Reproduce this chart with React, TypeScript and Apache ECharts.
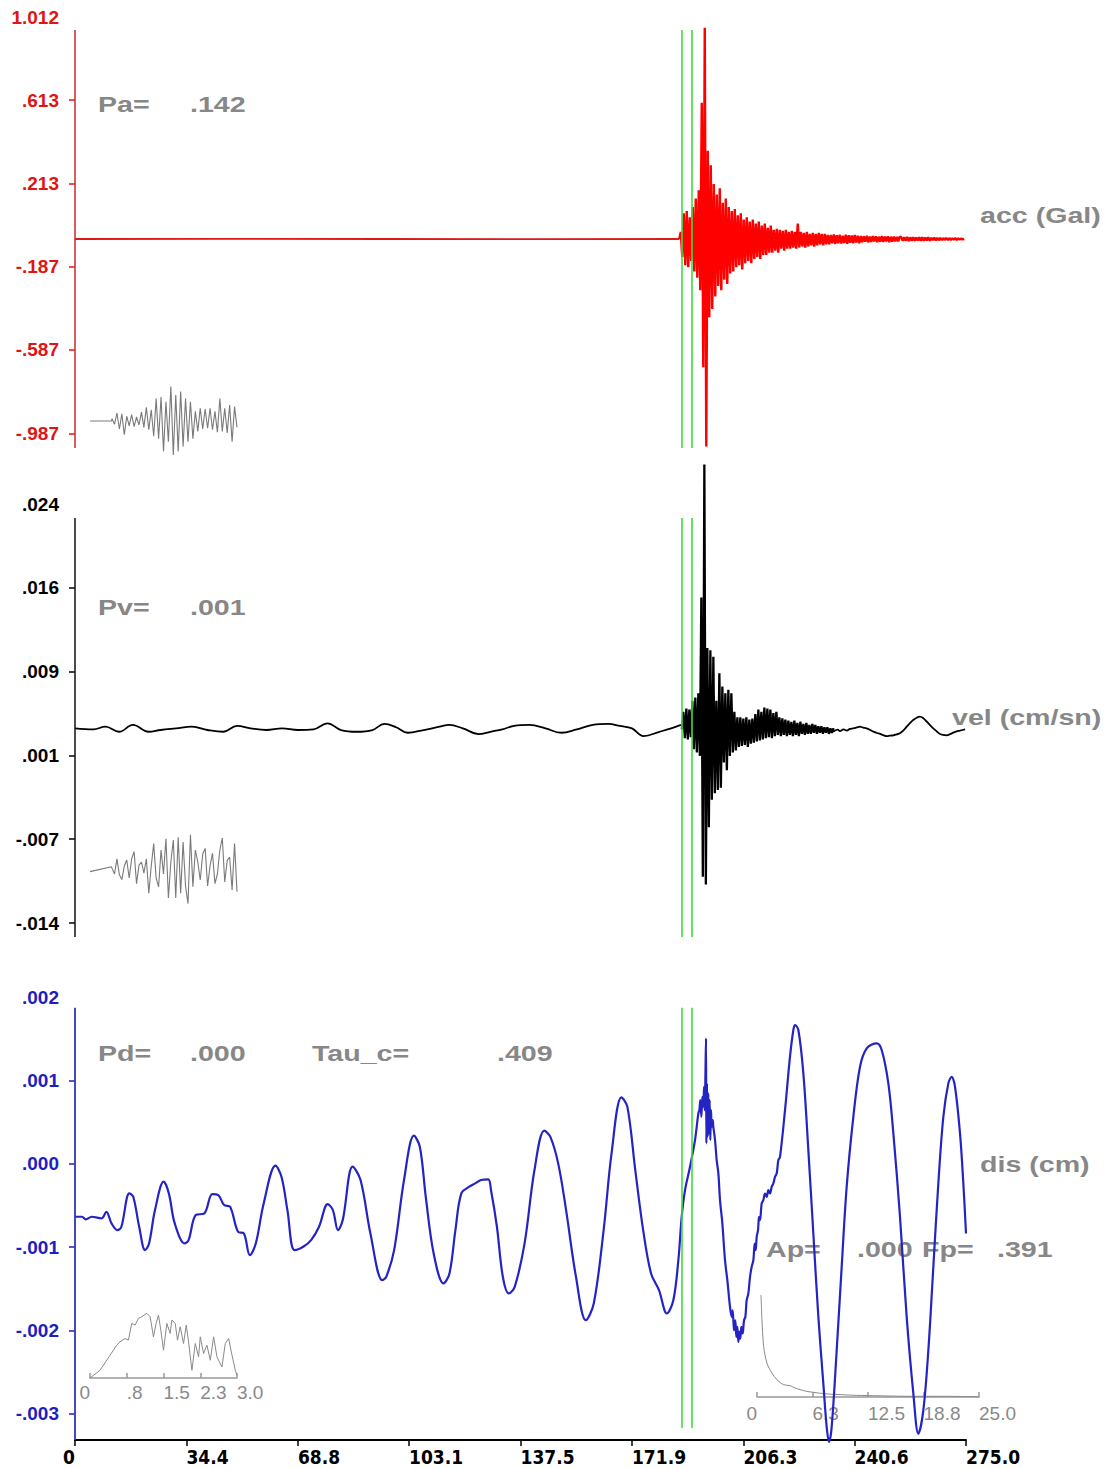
import React, { useEffect, useRef } from 'react';
import * as echarts from 'echarts';

// ---------------- axis ticks ----------------
const X_TICKS = [0, 34.4, 68.8, 103.1, 137.5, 171.9, 206.3, 240.6, 275.0];
const X_TICK_LABELS = ['0', '34.4', '68.8', '103.1', '137.5', '171.9', '206.3', '240.6', '275.0'];

const ACC_TICKS = [-0.987, -0.587, -0.187, 0.213, 0.613, 1.012];
const ACC_TICK_LABELS = ['-.987', '-.587', '-.187', '.213', '.613', '1.012'];
const VEL_TICKS = [-0.0142, -0.00658, 0.00104, 0.00866, 0.01628, 0.0239];
const VEL_TICK_LABELS = ['-.014', '-.007', '.001', '.009', '.016', '.024'];
const DIS_TICKS = [-0.003, -0.002, -0.001, 0, 0.001, 0.002];
const DIS_TICK_LABELS = ['-.003', '-.002', '-.001', '.000', '.001', '.002'];

const SPEC_TICKS = [0, 0.75, 1.5, 2.25, 3.0];
const SPEC_TICK_LABELS = ['0', '.8', '1.5', '2.3', '3.0'];
const FOUR_TICKS = [0, 6.25, 12.5, 18.75, 25.0];
const FOUR_TICK_LABELS = ['0', '6.3', '12.5', '18.8', '25.0'];

// axis extents (value units)
const ACC_RANGE = [-1.0576, 1.012];
const ACC_AXIS_TOP = 0.9496;
const VEL_RANGE = [-0.01547, 0.0239];
const VEL_AXIS_TOP = 0.02263;
const DIS_RANGE = [-0.003312, 0.002];
const DIS_AXIS_TOP = 0.00187;
const DIS_PICK_BOTTOM = -0.003168;

// P-pick window (s)
const PICKS = [187.2, 190.3];

// parameters
const PA = '.142';
const PV = '.001';
const PD = '.000';
const TAU_C = '.409';
const AP = '.000';
const FP = '.391';

// ---------------- acceleration (Gal) ----------------
const ACC_PRE_T = [0, 45, 95, 140, 186.5];
const ACC_PRE_V = [-0.054, -0.053, -0.054, -0.055, -0.054];
const ACC_T0 = 186.5;
const ACC_DT = 0.463;
const ACC_BURST = [
  -0.054, -0.02, -0.14, 0.07, -0.18, 0.08, -0.19, 0.05, -0.16, 0.10,
  -0.21, 0.14, -0.24, 0.18, -0.30, 0.60, -0.67, 0.96, -1.05, 0.37,
  -0.43, 0.30, -0.39, 0.21, -0.33, 0.16, -0.28, 0.19, -0.30, 0.12,
  -0.25, 0.14, -0.27, 0.10, -0.22, 0.08, -0.21, 0.09, -0.19, 0.06,
  -0.18, 0.07, -0.20, 0.04, -0.17, 0.05, -0.16, 0.03, -0.17, 0.04,
  -0.15, 0.02, -0.14, 0.03, -0.15, 0.01, -0.13, 0.02, -0.13, 0.00,
  -0.12, 0.01, -0.12, -0.01, -0.11, -0.005, -0.12, -0.01, -0.10, -0.015,
  -0.11, -0.01, -0.10, -0.02, -0.10, -0.015, -0.095, -0.02, -0.10, 0.02,
  -0.095, -0.02, -0.09, -0.025, -0.095, -0.02, -0.09, -0.03, -0.085, -0.025,
  -0.09, -0.03, -0.085, -0.025, -0.08, -0.03, -0.085, -0.03, -0.08, -0.035,
  -0.08, -0.035, -0.075, -0.032, -0.078, -0.036, -0.074, -0.034, -0.076, -0.038,
  -0.073, -0.033, -0.077, -0.036, -0.072, -0.037, -0.075, -0.035, -0.071, -0.038,
  -0.074, -0.040, -0.069, -0.041, -0.067, -0.039, -0.070, -0.042, -0.068, -0.040,
  -0.066, -0.041, -0.069, -0.043, -0.067, -0.040, -0.068, -0.042, -0.066, -0.041,
  -0.069, -0.043, -0.067, -0.042, -0.065, -0.044, -0.066, -0.043, -0.045, -0.063,
  -0.046, -0.062, -0.044, -0.064, -0.046, -0.062, -0.045, -0.063, -0.047, -0.061,
  -0.045, -0.063, -0.046, -0.062, -0.047, -0.061, -0.046, -0.062, -0.048, -0.060,
  -0.047, -0.061, -0.048, -0.060, -0.049, -0.059, -0.050, -0.058, -0.049, -0.059,
  -0.050, -0.058, -0.051, -0.057, -0.050, -0.058, -0.051, -0.057, -0.052, -0.056,
  -0.054,
];

// ---------------- velocity (cm/s) ----------------
const VEL_PRE_T = [
  0, 5.7, 9.4, 13.6, 17.9, 22.7, 26.4, 31.2, 36.1, 40.9,
  45.8, 50.0, 54.2, 59.1, 63.9, 68.8, 73.6, 77.9, 82.1, 87.0,
  91.8, 95.5, 99.1, 102.7, 107.6, 112.5, 115.5, 119.7, 124.6, 128.2,
  131.9, 135.5, 140.3, 145.2, 150.1, 154.9, 159.8, 164.6, 168.2, 171.9,
  175.5, 180.4, 184.0, 187.0,
];
const VEL_PRE_V = [
  0.00350, 0.00341, 0.00365, 0.00319, 0.00381, 0.00319, 0.00335, 0.00350, 0.00365, 0.00335,
  0.00319, 0.00372, 0.00350, 0.00335, 0.00350, 0.00335, 0.00341, 0.00396, 0.00335, 0.00319,
  0.00335, 0.00390, 0.00360, 0.00310, 0.00335, 0.00365, 0.00381, 0.00350, 0.00298, 0.00319,
  0.00341, 0.00372, 0.00381, 0.00350, 0.00310, 0.00341, 0.00381, 0.00390, 0.00372, 0.00350,
  0.00280, 0.00319, 0.00350, 0.00381,
];
const VEL_T0 = 187.3;
const VEL_DT = 0.463;
const VEL_BURST = [
  0.0034, 0.0050, 0.0026, 0.0053, 0.0025, 0.0052, 0.0027, 0.0060, 0.0016, 0.0063,
  0.0013, 0.0067, 0.0010, 0.0154, -0.0100, 0.0275, -0.0107, 0.0108, -0.0055, 0.0106,
  -0.0030, 0.0100, -0.0024, 0.0060, -0.0021, 0.0085, -0.0019, 0.0073, 0.0004, 0.0067,
  -0.0003, 0.0070, 0.0010, 0.0067, 0.0013, 0.0050, 0.0015, 0.0045, 0.0018, 0.0045,
  0.0019, 0.0044, 0.0020, 0.0045, 0.0018, 0.0043, 0.0021, 0.0044, 0.0022, 0.0048,
  0.0023, 0.0052, 0.0024, 0.0050, 0.0025, 0.0054, 0.0026, 0.0053, 0.0027, 0.0052,
  0.0026, 0.0049, 0.0028, 0.0050, 0.0029, 0.0045, 0.0028, 0.0044, 0.0029, 0.0043,
  0.0028, 0.0042, 0.0029, 0.0041, 0.0028, 0.0042, 0.0029, 0.0040, 0.0028, 0.0041,
  0.0030, 0.0039, 0.0029, 0.0040, 0.0030, 0.0038, 0.0030, 0.0039, 0.0031, 0.0038,
  0.0030, 0.0037, 0.0031, 0.0037, 0.0030, 0.0036, 0.0031, 0.0036, 0.0030, 0.0035,
  0.0031, 0.0035,
];
const VEL_TAIL_T = [
  234.1, 235.4, 236.1, 237.2, 238.2, 239.2, 240.2, 241.3, 242.3, 243.3,
  244.3, 245.4, 246.4, 247.5, 248.5, 249.5, 250.5, 251.6, 252.6, 253.6,
  254.6, 255.7, 256.7, 257.7, 258.7, 259.8, 260.8, 261.9, 262.9, 263.9,
  264.9, 266.0, 267.0, 268.0, 269.0, 270.1, 271.1, 272.1, 273.1, 274.7,
];
const VEL_TAIL_V = [
  0.00322, 0.00338, 0.00325, 0.00340, 0.00330, 0.00345, 0.00350, 0.00358, 0.00365, 0.00356,
  0.00350, 0.00336, 0.00320, 0.00308, 0.00299, 0.00288, 0.00280, 0.00284, 0.00287, 0.00296,
  0.00305, 0.00332, 0.00365, 0.00398, 0.00426, 0.00447, 0.00456, 0.00440, 0.00411, 0.00380,
  0.00350, 0.00322, 0.00299, 0.00290, 0.00287, 0.00298, 0.00311, 0.00322, 0.00329, 0.00341,
];

// ---------------- displacement (cm) ----------------
const DIS_T = [
  0, 2.12, 3.34, 5.17, 8.22, 9.68, 11.27, 13.10, 14.32, 16.76,
  17.98, 19.81, 21.64, 22.86, 24.69, 27.37, 28.96, 30.79, 33.84, 35.06,
  37.26, 39.94, 42.38, 44.21, 46.04, 47.87, 50.31, 52.14, 53.97, 55.80,
  58.24, 61.90, 63.73, 65.56, 67.76, 70.44, 72.88, 75.32, 78.00, 79.59,
  81.18, 82.64, 85.69, 88.13, 91.18, 94.84, 96.06, 98.50, 101.55, 104.60,
  106.43, 108.26, 110.70, 113.75, 115.58, 117.41, 119.24, 121.68, 123.51, 125.34,
  127.54, 128.39, 130.22, 132.05, 133.88, 135.71, 138.76, 141.81, 144.86, 146.69,
  149.13, 151.57, 154.62, 157.67, 160.11, 163.16, 165.60, 168.65, 170.48, 172.92,
  175.36, 177.80, 180.24, 182.68, 184.67, 186.22, 187.25, 188.28, 189.82, 191.36,
  192.39, 192.70, 193.01, 193.32, 193.63, 193.93, 194.14, 194.35, 194.55, 194.76,
  194.86, 195.07, 195.27, 195.48, 195.68, 195.89, 196.09, 196.30, 196.51, 196.82,
  197.02, 197.54, 198.05, 198.57, 199.08, 199.80, 200.62, 201.34, 202.16, 202.68,
  202.99, 203.40, 203.81, 204.12, 204.43, 204.74, 205.05, 205.35, 205.66, 206.07,
  206.49, 206.90, 207.31, 207.82, 208.34, 208.85, 209.37, 209.78, 210.09, 210.40,
  210.81, 211.12, 211.42, 211.94, 212.45, 212.97, 213.48, 214.00, 214.51, 215.03,
  215.54, 216.05, 216.57, 217.08, 217.60, 219.14, 220.68, 221.71, 222.23, 223.26,
  224.80, 226.34, 227.88, 229.43, 230.97, 232.00, 232.72, 233.54, 235.09, 236.63,
  238.17, 240.23, 242.29, 244.35, 247.43, 248.98, 251.03, 252.58, 254.63, 256.69,
  258.75, 260.29, 261.83, 263.38, 264.92, 266.46, 268.01, 269.55, 270.58, 271.61,
  273.15, 274.18, 275.0,
];
const DIS_V = [
  -0.000635, -0.000635, -0.000667, -0.000635, -0.000655, -0.000575, -0.000715, -0.000795, -0.000755, -0.000355,
  -0.000395, -0.000755, -0.001035, -0.000955, -0.000555, -0.000215, -0.000355, -0.000715, -0.000955, -0.000915,
  -0.000615, -0.000595, -0.000363, -0.000375, -0.000495, -0.000515, -0.000815, -0.000835, -0.001095, -0.000955,
  -0.000475, -0.000023, -0.000155, -0.000555, -0.001035, -0.000995, -0.000915, -0.000755, -0.000483, -0.000555,
  -0.000795, -0.000675, -0.000035, -0.000195, -0.000835, -0.001395, -0.001355, -0.001035, -0.000195, 0.000337,
  0.000205, -0.000395, -0.001075, -0.001435, -0.001315, -0.000795, -0.000355, -0.000275, -0.000235, -0.000195,
  -0.000187, -0.000315, -0.000755, -0.001355, -0.001555, -0.001475, -0.000955, -0.000075, 0.000397, 0.000325,
  0.000005, -0.000555, -0.001355, -0.001875, -0.001675, -0.000795, 0.000125, 0.000797, 0.000685, -0.000075,
  -0.000795, -0.001315, -0.001515, -0.001795, -0.001636, -0.001156, -0.000636, -0.000316, -0.000036, 0.000284,
  0.000604, 0.000644, 0.000764, 0.000564, 0.000804, 0.000684, 0.000924, 0.000644, 0.001004, 0.001504,
  0.000244, 0.000964, 0.000324, 0.000844, 0.000364, 0.000764, 0.000284, 0.000644, 0.000444, 0.000524,
  0.000444, 0.000284, 0.000044, -0.000116, -0.000436, -0.000716, -0.001156, -0.001396, -0.001716, -0.001836,
  -0.001756, -0.001996, -0.001876, -0.002076, -0.001956, -0.002136, -0.002016, -0.002096, -0.001956, -0.002036,
  -0.001876, -0.001836, -0.001636, -0.001556, -0.001356, -0.001236, -0.001156, -0.000956, -0.001036, -0.000876,
  -0.000796, -0.000636, -0.000676, -0.000476, -0.000436, -0.000356, -0.000396, -0.000316, -0.000356, -0.000276,
  -0.000236, -0.000156, -0.000116, 0.000044, 0.000084, 0.000644, 0.001284, 0.001604, 0.001664, 0.001604,
  0.001084, 0.000164, -0.000836, -0.001836, -0.002636, -0.003156, -0.003336, -0.003156, -0.002236, -0.001236,
  -0.000276, 0.000564, 0.001164, 0.001384, 0.001444, 0.001364, 0.000964, 0.000364, -0.000636, -0.001836,
  -0.002756, -0.003236, -0.002956, -0.002236, -0.001236, -0.000236, 0.000564, 0.000964, 0.001044, 0.000924,
  0.000364, -0.000236, -0.000836,
];

// ---------------- insets (first 3 s after P) ----------------
const ACC_INSET_PRE_T = [0, 0.44];
const ACC_INSET_PRE_V = [0, 0];
const INSET_T0 = 0.45;
const INSET_DT = 0.05;
const ACC_INSET = [
  0.3, -0.4, 1.0, -1.0, 0.9, -1.7, 0.6, -0.6, 0.8, -0.7,
  0.5, -0.5, 1.1, -0.8, 1.7, -1.1, 1.4, -1.9, 2.8, -2.2,
  3.0, -3.8, 2.4, -2.6, 4.3, -4.25, 3.25, -3.8, 3.7, -3.2,
  2.8, -2.6, 2.4, -2.2, 1.2, -1.3, 1.6, -1.0, 1.5, -0.9,
  1.6, -1.1, 1.2, -1.4, 2.8, -1.3, 1.6, -1.5, 2.0, -2.6,
  1.8, -0.8,
];
const VEL_INSET_PRE_T = [0, 0.44];
const VEL_INSET_PRE_V = [-0.2, 0.4];
const VEL_INSET = [
  0.2, -0.5, 1.4, -0.6, -1.2, 0.5, 1.25, -1.0, 1.4, 2.3,
  -1.7, 0.6, 1.0, -0.4, 1.4, -2.9, 0.5, 3.3, -1.0, -2.1,
  2.5, -0.5, 3.9, -3.5, 1.0, 3.75, -3.5, 4.1, -2.9, 3.5,
  -2.0, -4.2, 4.4, -2.1, 2.5, 1.0, -1.25, 2.0, 2.7, -2.0,
  0.5, 2.1, -1.7, -0.5, 2.5, 4.0, -1.5, 1.2, 1.6, -2.5,
  3.3, -2.7,
];
const SPEC_T = [
  0, 0.205, 0.409, 0.545, 0.614, 0.716, 0.784, 0.852, 0.920, 0.989,
  1.057, 1.159, 1.227, 1.295, 1.35, 1.398, 1.445, 1.5, 1.568, 1.636,
  1.67, 1.739, 1.786, 1.841, 1.909, 1.964, 2.011, 2.08, 2.148, 2.216,
  2.25, 2.318, 2.386, 2.455, 2.523, 2.591, 2.693, 2.761, 2.83, 2.898,
  2.966, 3.0,
];
const SPEC_V = [
  0.0, 0.115, 0.34, 0.49, 0.54, 0.59, 0.565, 0.815, 0.79, 0.89,
  0.915, 0.965, 0.915, 0.615, 0.815, 0.94, 0.715, 0.415, 0.815, 0.665,
  0.865, 0.815, 0.565, 0.765, 0.515, 0.79, 0.54, 0.115, 0.515, 0.315,
  0.615, 0.365, 0.49, 0.265, 0.615, 0.315, 0.165, 0.515, 0.59, 0.34,
  0.115, 0.04,
];
const FOUR_F = [0.45, 0.56, 0.75, 1.12, 1.68, 2.25, 2.99, 3.74, 4.30, 4.87, 5.61, 6.36, 7.49, 9.36, 11.23, 13.10, 16.84, 20.58, 25.0];
const FOUR_A = [1.0, 0.756, 0.495, 0.332, 0.235, 0.169, 0.121, 0.111, 0.088, 0.072, 0.055, 0.046, 0.033, 0.023, 0.016, 0.013, 0.007, 0.007, 0.003];

// ---------------- helpers ----------------
const FONT = "'Liberation Sans', Arial, Helvetica, sans-serif";
const NARROW = "'Liberation Sans Narrow', 'Arial Narrow', 'DejaVu Sans Condensed', 'Liberation Sans', sans-serif";

function zip(ts: number[], vs: number[]) {
  const n = Math.min(ts.length, vs.length);
  const out: number[][] = [];
  for (let i = 0; i < n; i++) out.push([ts[i], vs[i]]);
  return out;
}
function sampled(t0: number, dt: number, vs: number[]) {
  return vs.map((v, i) => [t0 + i * dt, v]);
}
function fmt(ticks: number[], labels: string[]) {
  return (v: number) => {
    for (let i = 0; i < ticks.length; i++) {
      if (Math.abs(ticks[i] - v) <= Math.abs(ticks[i]) * 1e-6 + 1e-12) return labels[i];
    }
    return '';
  };
}
function vline(x: number, y1: number, y2: number, color: string, width: number) {
  return [
    { coord: [x, y1], lineStyle: { color, width, type: 'solid' } },
    { coord: [x, y2], lineStyle: { color, width, type: 'solid' } },
  ];
}
function panelY(gridIndex: number, range: number[], ticks: number[], labels: string[], color: string) {
  return {
    type: 'value', gridIndex, min: range[0], max: range[1],
    axisLine: { show: false },
    splitLine: { show: false },
    axisTick: { show: true, customValues: ticks.slice(0, ticks.length - 1), length: 6, lineStyle: { color, width: 1.5 } },
    axisLabel: {
      show: true, customValues: ticks, formatter: fmt(ticks, labels),
      color, fontSize: 19, fontWeight: 'bold', fontFamily: FONT, margin: 16,
    },
  };
}
function hiddenX(gridIndex: number, min: number, max: number) {
  return { type: 'value', gridIndex, min, max, show: false };
}
function hiddenY(gridIndex: number, min: number, max: number) {
  return { type: 'value', gridIndex, min, max, show: false };
}
function insetX(gridIndex: number, max: number, ticks: number[], labels: string[], margin: number) {
  return {
    type: 'value', gridIndex, min: 0, max,
    axisLine: { show: true, onZero: false, lineStyle: { color: '#999', width: 1.5 } },
    axisTick: { show: true, inside: true, length: 5, customValues: ticks, lineStyle: { color: '#999', width: 1.5 } },
    axisLabel: {
      customValues: ticks, formatter: fmt(ticks, labels), color: '#8a8a8a',
      fontSize: 19, fontFamily: FONT, align: 'left', alignMinLabel: 'right', margin,
    },
    splitLine: { show: false },
  };
}
function gText(text: string, x: number, y: number) {
  return {
    type: 'text', x, y, scaleX: 1.3, z: 1, silent: true,
    style: {
      text, fill: '#878787', fontSize: 22, fontWeight: 'bold', fontFamily: FONT,
      align: 'left', verticalAlign: 'middle',
    },
  };
}
const lineBase = {
  type: 'line', showSymbol: false, symbol: 'none', silent: true, clip: false, animation: false,
};
const markBase = {
  silent: true, symbol: ['none', 'none'], label: { show: false }, animation: false,
};
const GREEN = '#3fdc3f';

export default function App() {
  const ref = useRef<HTMLDivElement>(null);
  useEffect(() => {
    document.body.style.margin = '0';
    const chart = echarts.init(ref.current!, null, { renderer: 'svg' });

    const accPre = zip(ACC_PRE_T, ACC_PRE_V);
    const accBurst = sampled(ACC_T0, ACC_DT, ACC_BURST);
    const velPre = zip(VEL_PRE_T, VEL_PRE_V);
    const velBurst = sampled(VEL_T0, VEL_DT, VEL_BURST);
    const velTail = [velBurst[velBurst.length - 1], ...zip(VEL_TAIL_T, VEL_TAIL_V)];
    const disData = zip(DIS_T, DIS_V);
    const accInset = [...zip(ACC_INSET_PRE_T, ACC_INSET_PRE_V), ...sampled(INSET_T0, INSET_DT, ACC_INSET)];
    const velInset = [...zip(VEL_INSET_PRE_T, VEL_INSET_PRE_V), ...sampled(INSET_T0, INSET_DT, VEL_INSET)];

    const option: any = {
      animation: false,
      backgroundColor: '#ffffff',
      grid: [
        { left: 75, top: 17, width: 891, height: 431 },
        { left: 75, top: 504, width: 891, height: 433 },
        { left: 75, top: 997, width: 891, height: 443 },
        { left: 90, top: 381, width: 147, height: 80 },
        { left: 90, top: 830, width: 147, height: 80 },
        { left: 90, top: 1311, width: 147, height: 67 },
        { left: 757, top: 1295, width: 222, height: 102 },
      ],
      xAxis: [
        hiddenX(0, 0, 275),
        hiddenX(1, 0, 275),
        {
          type: 'value', gridIndex: 2, min: 0, max: 275,
          axisLine: { show: true, onZero: false, lineStyle: { color: '#000', width: 2 } },
          axisTick: { show: true, customValues: X_TICKS, length: 6, lineStyle: { color: '#000', width: 1.5 } },
          axisLabel: {
            customValues: X_TICKS, formatter: fmt(X_TICKS, X_TICK_LABELS), color: '#000',
            fontSize: 19, fontWeight: 'bold', fontFamily: NARROW, align: 'left', alignMinLabel: 'right', margin: 7,
          },
          splitLine: { show: false },
        },
        hiddenX(3, 0, 3),
        hiddenX(4, 0, 3),
        insetX(5, 3, SPEC_TICKS, SPEC_TICK_LABELS, 5),
        insetX(6, 25, FOUR_TICKS, FOUR_TICK_LABELS, 7),
      ],
      yAxis: [
        panelY(0, ACC_RANGE, ACC_TICKS, ACC_TICK_LABELS, '#e01414'),
        panelY(1, VEL_RANGE, VEL_TICKS, VEL_TICK_LABELS, '#000000'),
        panelY(2, DIS_RANGE, DIS_TICKS, DIS_TICK_LABELS, '#1e1ec0'),
        hiddenY(3, -5, 5),
        hiddenY(4, -5, 5),
        hiddenY(5, 0, 1),
        hiddenY(6, 0, 1),
      ],
      graphic: [
        gText('Pa=', 98, 104), gText(PA, 190, 104),
        gText('Pv=', 98, 607), gText(PV, 190, 607),
        gText('Pd=', 98, 1053), gText(PD, 190, 1053),
        gText('Tau_c=', 312, 1053), gText(TAU_C, 497, 1053),
        gText('acc (Gal)', 980, 215),
        gText('vel (cm/sn)', 952, 717),
        gText('dis (cm)', 980, 1164),
        gText('Ap=', 766, 1249), gText(AP, 857, 1249),
        gText('Fp=', 922, 1249), gText(FP, 997, 1249),
      ],
      series: [
        { ...lineBase, xAxisIndex: 3, yAxisIndex: 3, data: accInset, z: 2, lineStyle: { color: '#7a7a7a', width: 1.1 } },
        { ...lineBase, xAxisIndex: 4, yAxisIndex: 4, data: velInset, z: 2, lineStyle: { color: '#7a7a7a', width: 1.1 } },
        { ...lineBase, xAxisIndex: 5, yAxisIndex: 5, data: zip(SPEC_T, SPEC_V), z: 2, lineStyle: { color: '#8a8a8a', width: 1 } },
        { ...lineBase, xAxisIndex: 6, yAxisIndex: 6, data: zip(FOUR_F, FOUR_A), smooth: 0.3, z: 2, lineStyle: { color: '#8a8a8a', width: 1 } },
        {
          ...lineBase, xAxisIndex: 0, yAxisIndex: 0, data: accPre, z: 3,
          lineStyle: { color: '#dc1a1a', width: 1.8 },
          markLine: {
            ...markBase,
            data: [
              vline(0, ACC_AXIS_TOP, ACC_RANGE[0], '#cc2a2a', 1.5),
              vline(PICKS[0], ACC_AXIS_TOP, ACC_RANGE[0], GREEN, 1.6),
              vline(PICKS[1], ACC_AXIS_TOP, ACC_RANGE[0], GREEN, 1.6),
            ],
          },
        },
        {
          ...lineBase, xAxisIndex: 0, yAxisIndex: 0, data: accBurst, z: 3,
          lineStyle: { color: '#ff0000', width: 2.4 },
        },
        {
          ...lineBase, xAxisIndex: 1, yAxisIndex: 1, data: velPre, z: 3, smooth: 0.4,
          lineStyle: { color: '#000000', width: 1.8 },
          markLine: {
            ...markBase,
            data: [
              vline(0, VEL_AXIS_TOP, VEL_RANGE[0], '#111111', 1.5),
              vline(PICKS[0], VEL_AXIS_TOP, VEL_RANGE[0], GREEN, 1.6),
              vline(PICKS[1], VEL_AXIS_TOP, VEL_RANGE[0], GREEN, 1.6),
            ],
          },
        },
        {
          ...lineBase, xAxisIndex: 1, yAxisIndex: 1, data: velBurst, z: 3,
          lineStyle: { color: '#000000', width: 2.3 },
        },
        {
          ...lineBase, xAxisIndex: 1, yAxisIndex: 1, data: velTail, z: 3, smooth: 0.4,
          lineStyle: { color: '#000000', width: 1.8 },
        },
        {
          ...lineBase, xAxisIndex: 2, yAxisIndex: 2, data: disData, z: 3, smooth: 0.35,
          lineStyle: { color: '#2424c4', width: 2.2 },
          markLine: {
            ...markBase,
            data: [
              vline(0, DIS_AXIS_TOP, DIS_RANGE[0], '#3535b5', 1.8),
              vline(PICKS[0], DIS_AXIS_TOP, DIS_PICK_BOTTOM, GREEN, 1.6),
              vline(PICKS[1], DIS_AXIS_TOP, DIS_PICK_BOTTOM, GREEN, 1.6),
            ],
          },
        },
      ],
    };
    chart.setOption(option);
    return () => chart.dispose();
  }, []);
  return <div ref={ref} style={{ width: 1119, height: 1469, position: 'absolute', left: 0, top: 0 }} />;
}
